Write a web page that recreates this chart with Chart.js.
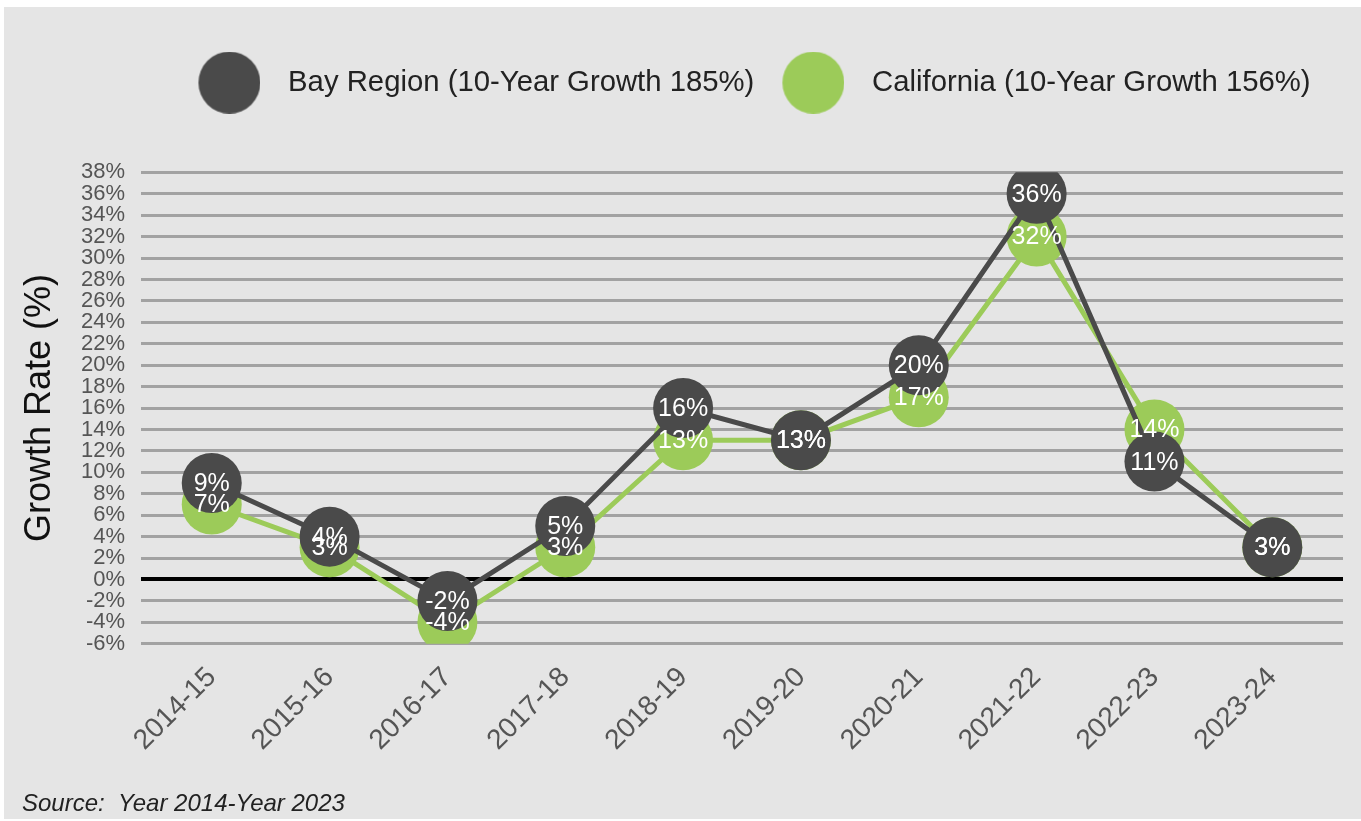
<!DOCTYPE html>
<html>
<head>
<meta charset="utf-8">
<script src="https://cdn.jsdelivr.net/npm/chart.js@4.4.1/dist/chart.umd.min.js"></script>
<style>
  html, body { margin: 0; padding: 0; background: #ffffff; width: 1361px; height: 821px; overflow: hidden; }
  #wrap { position: absolute; left: 4px; top: 7px; width: 1357px; height: 812px; background: #e5e5e5; overflow: hidden; }
  canvas { display: block; }
</style>
</head>
<body>
<div id="wrap"><canvas id="c" width="1369" height="812"></canvas></div>
<script>
const categories = ['2014-15','2015-16','2016-17','2017-18','2018-19','2019-20','2020-21','2021-22','2022-23','2023-24'];
const bayRegion = [9, 4, -2, 5, 16, 13, 20, 36, 11, 3];
const california = [7, 3, -4, 3, 13, 13, 17, 32, 14, 3];
const seriesNames = ['Bay Region (10-Year Growth 185%)', 'California (10-Year Growth 156%)'];
const sourceText = 'Source:  Year 2014-Year 2023';

const DARK = '#4a4a4a';
const GREEN = '#9ccb59';
const FONT = '"Liberation Sans", Arial, Helvetica, sans-serif';

// Legend: larger gap below the legend and no clipping of the big dots
const LegendEl = Chart.registry.getPlugin('legend')._element;
const origFit = LegendEl.prototype.fit;
LegendEl.prototype.fit = function () {
  origFit.call(this);
  if (this.options.display) this.height += 65;
};
LegendEl.prototype.draw = function () {
  if (this.options.display) this._draw();
};

function legendDot(color) {
  const cv = document.createElement('canvas');
  cv.width = 74; cv.height = 62;
  const g = cv.getContext('2d');
  g.fillStyle = color;
  g.beginPath(); g.arc(43, 31, 31, 0, Math.PI * 2); g.fill();
  return cv;
}
const legendIcons = [legendDot(DARK), legendDot(GREEN)];

const pointLabels = {
  id: 'pointLabels',
  afterDatasetsDraw(chart) {
    const ctx = chart.ctx;
    ctx.save();
    ctx.font = '25px ' + FONT;
    ctx.fillStyle = '#ffffff';
    ctx.textAlign = 'center';
    ctx.textBaseline = 'middle';
    chart.data.datasets.forEach((ds, i) => {
      const meta = chart.getDatasetMeta(i);
      meta.data.forEach((pt, j) => {
        ctx.fillText(ds.data[j].y + '%', pt.x, pt.y + 1);
      });
    });
    ctx.restore();
  }
};

new Chart(document.getElementById('c'), {
  type: 'line',
  data: {
    datasets: [
      {
        label: seriesNames[0],
        data: categories.map((c, i) => ({ x: i, y: bayRegion[i] })),
        borderColor: DARK, backgroundColor: DARK,
        pointBackgroundColor: DARK, pointBorderWidth: 0,
        pointRadius: 30, borderWidth: 5, tension: 0
      },
      {
        label: seriesNames[1],
        data: categories.map((c, i) => ({ x: i, y: california[i] })),
        borderColor: GREEN, backgroundColor: GREEN,
        pointBackgroundColor: GREEN, pointBorderWidth: 0,
        pointRadius: 30, borderWidth: 5, tension: 0
      }
    ]
  },
  options: {
    responsive: false,
    animation: false,
    events: [],
    layout: { padding: { left: 18, right: 0, top: 58, bottom: 0 } },
    plugins: {
      tooltip: { enabled: false },
      legend: {
        position: 'top',
        fullSize: false,
        labels: {
          usePointStyle: true,
          pointStyleWidth: 100,
          padding: 3,
          color: '#222222',
          font: { family: FONT, size: 29.3 },
          generateLabels(chart) {
            return chart.data.datasets.map((ds, i) => ({
              text: ds.label,
              pointStyle: legendIcons[i],
              fillStyle: ds.borderColor,
              strokeStyle: ds.borderColor,
              lineWidth: 0,
              hidden: false,
              datasetIndex: i,
              fontColor: '#222222'
            }));
          }
        }
      },
      title: {
        display: true,
        position: 'bottom',
        align: 'start',
        text: sourceText,
        color: '#222222',
        font: { family: FONT, size: 24, style: 'italic', weight: 'normal' },
        padding: { top: 16, bottom: 0 }
      }
    },
    scales: {
      x: {
        type: 'linear',
        min: -0.6,
        max: 9.6,
        grid: { display: false, drawTicks: false },
        border: { display: false },
        afterFit: (s) => { s.paddingLeft = 0; s.paddingRight = 0; },
        ticks: {
          stepSize: 1,
          includeBounds: false,
          autoSkip: false,
          minRotation: 45,
          maxRotation: 45,
          padding: 17,
          color: '#555555',
          font: { family: FONT, size: 28 },
          callback: (v) => (Number.isInteger(v) && categories[v] !== undefined) ? categories[v] : ''
        }
      },
      y: {
        min: -6,
        max: 38,
        grid: {
          drawTicks: false,
          color: (c) => c.tick && c.tick.value === 0 ? '#000000' : '#a2a2a2',
          lineWidth: (c) => c.tick && c.tick.value === 0 ? 4 : 3
        },
        border: { display: false },
        ticks: {
          stepSize: 2,
          autoSkip: false,
          padding: 16,
          color: '#555555',
          font: { family: FONT, size: 22 },
          callback: (v) => v + '%'
        },
        title: {
          display: true,
          text: 'Growth Rate (%)',
          color: '#111111',
          font: { family: FONT, size: 36, lineHeight: 1 },
          padding: { top: 0, bottom: 7 }
        }
      }
    }
  },
  plugins: [pointLabels]
});
</script>
</body>
</html>
